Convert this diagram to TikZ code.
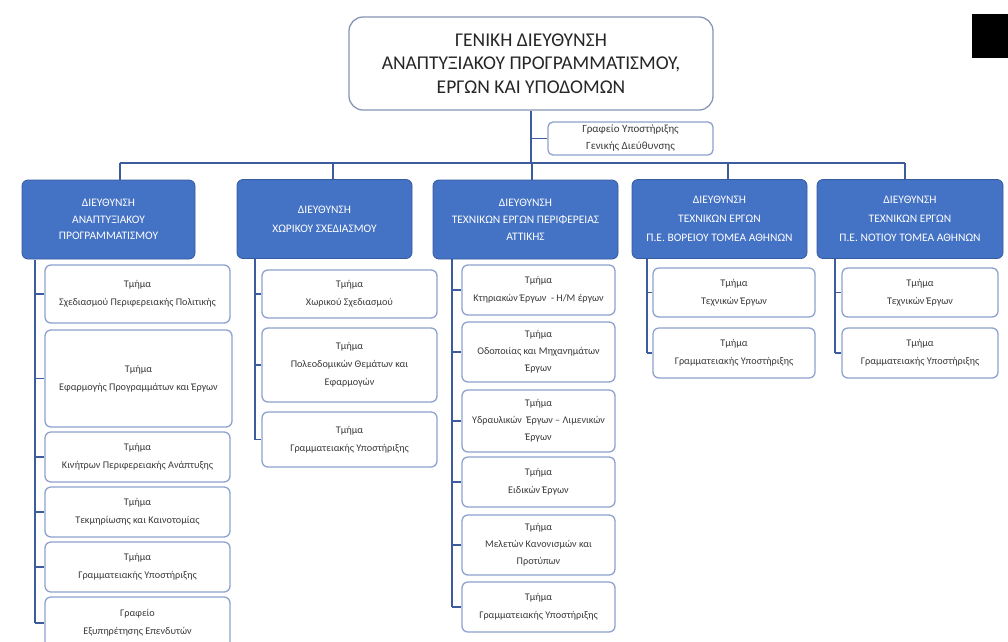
\documentclass[tikz,border=0pt]{standalone}
\usepackage{fontspec}
\setmainfont{Carlito}
\definecolor{dirblue}{HTML}{4472C4}
\definecolor{edgeblue}{HTML}{8EA2CF}
\definecolor{linkblue}{HTML}{3D5C9E}
\definecolor{topedge}{HTML}{8796B4}
\definecolor{txt}{HTML}{3A3A3A}
\tikzset{
  topbox/.style={draw=topedge, line width=1.3pt, rounded corners=14pt, fill=white, align=center, text=black!85, font=\fontsize{19.5}{23.5}\selectfont, inner sep=0pt},
  supbox/.style={draw=edgeblue, line width=1.3pt, rounded corners=5pt, fill=white, align=center, text=txt, font=\fontsize{11}{17}\selectfont, inner sep=0pt},
  dirbox/.style={draw=dirblue!80!black, line width=0.8pt, fill=dirblue, rounded corners=6pt, align=center, text=white, font=\fontsize{11.5}{19}\selectfont, inner sep=0pt, minimum height=79pt},
  unitbox/.style={draw=edgeblue, line width=1.3pt, rounded corners=6pt, fill=white, align=center, text=txt, font=\fontsize{10.2}{18}\selectfont, inner sep=0pt},
  conn/.style={draw=linkblue, line width=1.6pt}
}
\begin{document}
\begin{tikzpicture}[x=1pt,y=-1pt]
\useasboundingbox (0,0) rectangle (1008,641);
\clip (0,0) rectangle (1008,641);
\fill[white] (0,0) rectangle (1008,641);
\fill[black] (972,14) rectangle (1010,58);

% top
\node[topbox, minimum width=364pt, minimum height=93pt] (top) at (531,63.5) {ΓΕΝΙΚΗ ΔΙΕΥΘΥΝΣΗ\\ΑΝΑΠΤΥΞΙΑΚΟΥ ΠΡΟΓΡΑΜΜΑΤΙΣΜΟΥ,\\ΕΡΓΩΝ ΚΑΙ ΥΠΟΔΟΜΩΝ};
\node[supbox, minimum width=165pt, minimum height=33pt] (sup) at (630.5,138.5) {Γραφείο Υποστήριξης\\Γενικής Διεύθυνσης};

% directorates
\node[dirbox, minimum width=173pt, font=\fontsize{11.5}{16.5}\selectfont] (d1) at (108.5,219.5) {ΔΙΕΥΘΥΝΣΗ\\ΑΝΑΠΤΥΞΙΑΚΟΥ\\ΠΡΟΓΡΑΜΜΑΤΙΣΜΟΥ};
\node[dirbox, minimum width=175pt] (d2) at (324.5,219) {ΔΙΕΥΘΥΝΣΗ\\ΧΩΡΙΚΟΥ ΣΧΕΔΙΑΣΜΟΥ};
\node[dirbox, minimum width=185pt, font=\fontsize{11.5}{17}\selectfont] (d3) at (525.5,219.5) {ΔΙΕΥΘΥΝΣΗ\\ΤΕΧΝΙΚΩΝ ΕΡΓΩΝ ΠΕΡΙΦΕΡΕΙΑΣ\\ΑΤΤΙΚΗΣ};
\node[dirbox, minimum width=175pt] (d4) at (719.5,219) {ΔΙΕΥΘΥΝΣΗ\\ΤΕΧΝΙΚΩΝ ΕΡΓΩΝ\\Π.Ε. ΒΟΡΕΙΟΥ ΤΟΜΕΑ ΑΘΗΝΩΝ};
\node[dirbox, minimum width=186pt] (d5) at (910,219) {ΔΙΕΥΘΥΝΣΗ\\ΤΕΧΝΙΚΩΝ ΕΡΓΩΝ\\Π.Ε. ΝΟΤΙΟΥ ΤΟΜΕΑ ΑΘΗΝΩΝ};

% column 1
\node[unitbox, minimum width=185pt, minimum height=58pt] (c11) at (137.5,294) {Τμήμα\\Σχεδιασμού Περιφερειακής Πολιτικής};
\node[unitbox, minimum width=187pt, minimum height=97pt] (c12) at (138.5,378.5) {Τμήμα\\Εφαρμογής Προγραμμάτων και Έργων};
\node[unitbox, minimum width=185pt, minimum height=50pt] (c13) at (137.5,457) {Τμήμα\\Κινήτρων Περιφερειακής Ανάπτυξης};
\node[unitbox, minimum width=185pt, minimum height=50pt] (c14) at (137.5,512) {Τμήμα\\Τεκμηρίωσης και Καινοτομίας};
\node[unitbox, minimum width=185pt, minimum height=50pt] (c15) at (137.5,567) {Τμήμα\\Γραμματειακής Υποστήριξης};
\node[unitbox, minimum width=185pt, minimum height=52pt] (c16) at (137.5,623) {Γραφείο\\Εξυπηρέτησης Επενδυτών};

% column 2
\node[unitbox, minimum width=175pt, minimum height=48pt] (c21) at (349.5,294) {Τμήμα\\Χωρικού Σχεδιασμού};
\node[unitbox, minimum width=175pt, minimum height=74pt] (c22) at (349.5,365) {Τμήμα\\Πολεοδομικών Θεμάτων και\\Εφαρμογών};
\node[unitbox, minimum width=175pt, minimum height=55pt] (c23) at (349.5,439.5) {Τμήμα\\Γραμματειακής Υποστήριξης};

% column 3
\node[unitbox, minimum width=153pt, minimum height=50pt] (c31) at (538.5,290) {Τμήμα\\Κτηριακών Έργων\ \ - Η/Μ έργων};
\node[unitbox, minimum width=153pt, minimum height=60pt, font=\fontsize{10.2}{17}\selectfont] (c32) at (538.5,352) {Τμήμα\\Οδοποιίας και Μηχανημάτων\\Έργων};
\node[unitbox, minimum width=153pt, minimum height=62pt, font=\fontsize{10.2}{17}\selectfont] (c33) at (538.5,421) {Τμήμα\\Υδραυλικών\ \ Έργων -- Λιμενικών\\Έργων};
\node[unitbox, minimum width=153pt, minimum height=50pt] (c34) at (538.5,482) {Τμήμα\\Ειδικών Έργων};
\node[unitbox, minimum width=153pt, minimum height=60pt, font=\fontsize{10.2}{17}\selectfont] (c35) at (538.5,545) {Τμήμα\\Μελετών Κανονισμών και\\Προτύπων};
\node[unitbox, minimum width=153pt, minimum height=50pt] (c36) at (538.5,607) {Τμήμα\\Γραμματειακής Υποστήριξης};

% column 4
\node[unitbox, minimum width=162pt, minimum height=49pt] (c41) at (734,292.5) {Τμήμα\\Τεχνικών Έργων};
\node[unitbox, minimum width=162pt, minimum height=50pt] (c42) at (734,353) {Τμήμα\\Γραμματειακής Υποστήριξης};

% column 5
\node[unitbox, minimum width=156pt, minimum height=49pt] (c51) at (920,292.5) {Τμήμα\\Τεχνικών Έργων};
\node[unitbox, minimum width=156pt, minimum height=50pt] (c52) at (920,353) {Τμήμα\\Γραμματειακής Υποστήριξης};

% bus coordinates
\coordinate (b1) at (120,163);
\coordinate (b2) at (333,163);
\coordinate (b3) at (532,163);
\coordinate (b4) at (728,163);
\coordinate (b5) at (905,163);
\draw[conn] (b1) -- (b5);
\draw[conn] (top.south) -- (top.south |- b1);
\draw[conn] (sup.west) -- (sup.west -| top.south);
\foreach \i in {1,...,5}{\draw[conn] (b\i) -- (b\i |- d\i.north);}

% trunks
\coordinate (t1) at (35,260);
\coordinate (t2) at (255,258);
\coordinate (t3) at (452,259);
\coordinate (t4) at (647,258);
\coordinate (t5) at (835,258);
\draw[conn] (t1) -- (t1 |- c16.west);
\foreach \k in {1,...,6}{\draw[conn] (t1 |- c1\k.west) -- (c1\k.west);}
\draw[conn] (t2) -- (t2 |- c23.west);
\foreach \k in {1,...,3}{\draw[conn] (t2 |- c2\k.west) -- (c2\k.west);}
\draw[conn] (t3) -- (t3 |- c36.west);
\foreach \k in {1,...,6}{\draw[conn] (t3 |- c3\k.west) -- (c3\k.west);}
\draw[conn] (t4) -- (t4 |- c42.west);
\foreach \k in {1,2}{\draw[conn] (t4 |- c4\k.west) -- (c4\k.west);}
\draw[conn] (t5) -- (t5 |- c52.west);
\foreach \k in {1,2}{\draw[conn] (t5 |- c5\k.west) -- (c5\k.west);}
\end{tikzpicture}
\end{document}
